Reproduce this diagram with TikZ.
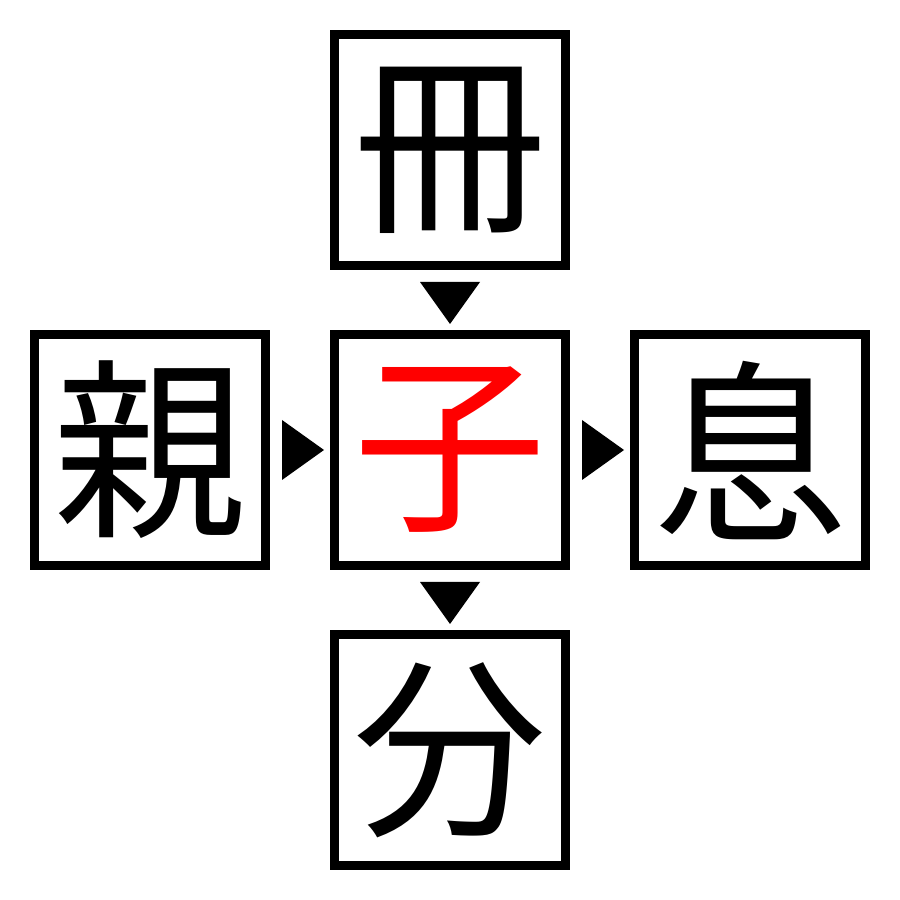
\documentclass[tikz,border=0pt]{standalone}
\usepackage{fontspec}
\newfontfamily\cjk{Noto Sans CJK JP}
\usetikzlibrary{calc}
\tikzset{
  kanjibox/.style={draw, line width=0.9mm, minimum size=2.31cm, inner sep=0pt,
    font=\cjk\fontsize{55}{55}\selectfont},
  pointer/.style={fill=black}
}
\begin{document}
\begin{tikzpicture}
  % Margins of the picture
  \useasboundingbox (0,0) rectangle (9,9);

  % Kanji boxes
  \node[kanjibox] (top) at (4.5,7.5) {冊};
  \node[kanjibox] (left) at (1.5,4.5) {親};
  \node[kanjibox, text=red] (centre) at (4.5,4.5) {子};
  \node[kanjibox] (right) at (7.5,4.5) {息};
  \node[kanjibox] (bottom) at (4.5,1.5) {分};

  % Points between the boxes
  \coordinate (m1) at ($(top.south)!0.5!(centre.north)$);
  \coordinate (m2) at ($(centre.south)!0.5!(bottom.north)$);
  \coordinate (m3) at ($(left.east)!0.5!(centre.west)$);
  \coordinate (m4) at ($(centre.east)!0.5!(right.west)$);

  % Triangles pointing down
  \fill[pointer] ($(m1)+(-0.3,0.18)$) -- ($(m1)+(0.3,0.18)$) -- ($(m1)+(0,-0.24)$) -- cycle;
  \fill[pointer] ($(m2)+(-0.3,0.18)$) -- ($(m2)+(0.3,0.18)$) -- ($(m2)+(0,-0.24)$) -- cycle;

  % Triangles pointing right
  \fill[pointer] ($(m3)+(-0.18,0.3)$) -- ($(m3)+(-0.18,-0.3)$) -- ($(m3)+(0.24,0)$) -- cycle;
  \fill[pointer] ($(m4)+(-0.18,0.3)$) -- ($(m4)+(-0.18,-0.3)$) -- ($(m4)+(0.24,0)$) -- cycle;

\end{tikzpicture}
\end{document}
